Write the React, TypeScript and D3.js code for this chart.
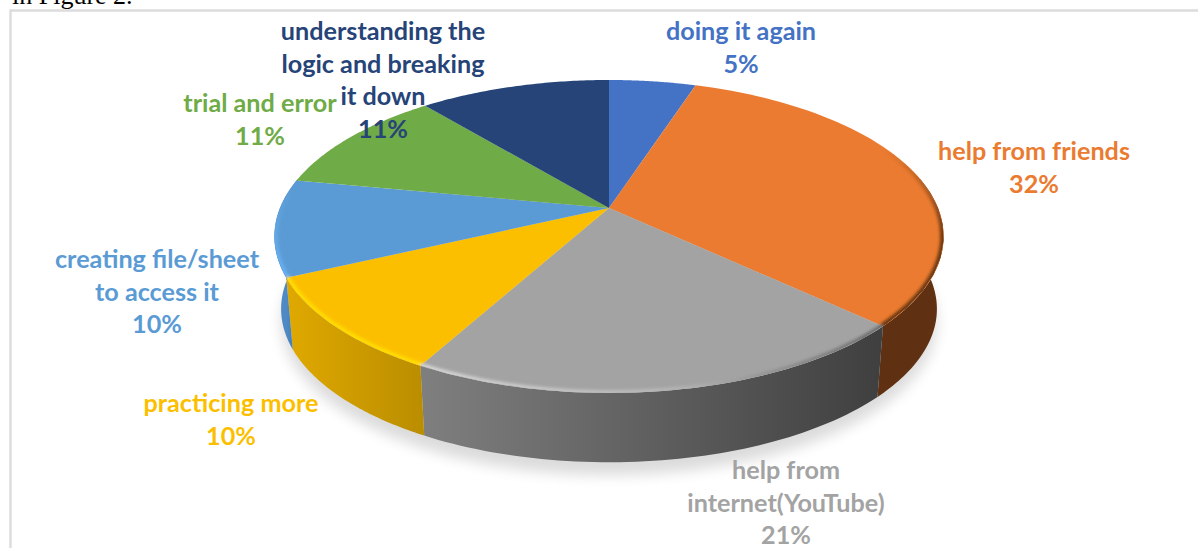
import React from "react";
import * as d3 from "d3";

// Survey shares, clockwise from twelve o'clock
const categories = [
  "doing it again",
  "help from friends",
  "help from internet(YouTube)",
  "practicing more",
  "creating file/sheet to access it",
  "trial and error",
  "understanding the logic and breaking it down",
];
const shares = [5, 32, 21, 10, 10, 11, 11];
const topColors = ["#4472c4", "#ea7b30", "#a3a3a3", "#fcbf00", "#5b9bd5", "#6fab46", "#264478"];
const sideLeft = ["#2f5597", "#5f3012", "#7f7f7f", "#e0a900", "#4f8ac4", "#5b8f3a", "#1c3359"];
const sideRight = ["#2f5597", "#5f3012", "#3f3f3f", "#bb8e00", "#4178b0", "#5b8f3a", "#1c3359"];

const labelLines = [
  ["doing it again", "5%"],
  ["help from friends", "32%"],
  ["help from", "internet(YouTube)", "21%"],
  ["practicing more", "10%"],
  ["creating file/sheet", "to access it", "10%"],
  ["trial and error", "11%"],
  ["understanding the", "logic and breaking", "it down", "11%"],
];
const labelCenters = [741, 1034, 786, 231, 157, 260, 383];
const labelFirstBaselines = [39.8, 159.8, 478.8, 411.8, 267.8, 111.8, 39.8];

const W = 1198;
const H = 548;
const cx = 609;
const cy = 208;
const lineGap = 32.7;

// Perspective tilt of the disc: the near half is drawn larger than the far half
const k = 0.182;
const a = 151.3;
const b = 329;
const depthDrop = 73;
const baseScale = 0.98;

const project = (theta: number, level: "top" | "base" = "top"): [number, number] => {
  const u = -Math.cos(theta);
  const v = Math.sin(theta);
  const d = 1 - k * u;
  const x = (b * v) / d;
  const y = (a * u) / d;
  return level === "top"
    ? [cx + x, cy + y]
    : [cx + x * baseScale, cy + y * baseScale + depthDrop];
};

const pieAngles = d3
  .pie<number>()
  .sort(null)
  .value((d) => d)(shares);

const line = d3.line();
const color = d3.scaleOrdinal<number, string>().domain(d3.range(shares.length)).range(topColors);

const arcPoints = (start: number, end: number, level: "top" | "base"): [number, number][] =>
  d3.range(0, 61).map((i) => project(start + ((end - start) * i) / 60, level));

const wedgePath = (start: number, end: number) =>
  line([[cx, cy], ...arcPoints(start, end, "top")])! + "Z";

// The wall is visible only on the near half of the rim
const wallFrom = Math.PI / 2 - 0.2;
const wallTo = (3 * Math.PI) / 2 + 0.2;

const wallPath = (start: number, end: number) => {
  const s = Math.max(start, wallFrom);
  const e = Math.min(end, wallTo);
  if (e <= s) return null;
  return line([...arcPoints(s, e, "top"), ...arcPoints(s, e, "base").reverse()])! + "Z";
};

const outline = line(arcPoints(0, Math.PI * 2, "top"))! + "Z";
const baseOutline = line(arcPoints(0, Math.PI * 2, "base"))! + "Z";

const rimPath = (i: number, from: number, to: number) => {
  const s = Math.max(pieAngles[i].startAngle, from);
  const e = Math.min(pieAngles[i].endAngle, to);
  return line(arcPoints(s, e, "top"))!;
};

export default function App() {
  return (
    <svg
      width={W}
      height={H}
      viewBox={`0 0 ${W} ${H}`}
      style={{ position: "absolute", left: 0, top: 0, background: "#fff" }}
    >
      <defs>
        <filter id="dropShadow" x="-10%" y="-10%" width="120%" height="130%">
          <feGaussianBlur stdDeviation="7" />
        </filter>
        <filter id="rimBlur" x="-5%" y="-5%" width="110%" height="110%">
          <feGaussianBlur stdDeviation="1.5" />
        </filter>
        <clipPath id="topClip">
          <path d={outline} />
        </clipPath>
        <linearGradient id="rimOrange" gradientUnits="userSpaceOnUse" x1={0} x2={0} y1={150} y2={235}>
          <stop offset="0" stopColor="#5f3012" stopOpacity={0} />
          <stop offset="1" stopColor="#5f3012" stopOpacity={0.9} />
        </linearGradient>
        <linearGradient id="rimGray" gradientUnits="userSpaceOnUse" x1={425} x2={885} y1={0} y2={0}>
          <stop offset="0" stopColor="#d4d4d4" />
          <stop offset="0.55" stopColor="#b4b4b4" />
          <stop offset="1" stopColor="#6a6a6a" />
        </linearGradient>
        <linearGradient id="rimBlue" gradientUnits="userSpaceOnUse" x1={0} x2={0} y1={190} y2={262}>
          <stop offset="0" stopColor="#66aef0" stopOpacity={0} />
          <stop offset="1" stopColor="#66aef0" />
        </linearGradient>
        {pieAngles.map((p, i) => {
          const s = Math.max(p.startAngle, wallFrom);
          const e = Math.min(p.endAngle, wallTo);
          if (e <= s) return null;
          const x1 = project(s)[0];
          const x2 = project(e)[0];
          return (
            <linearGradient
              key={i}
              id={`wall${i}`}
              gradientUnits="userSpaceOnUse"
              x1={Math.max(x1, x2)}
              x2={Math.min(x1, x2)}
              y1={0}
              y2={0}
            >
              <stop offset="0" stopColor={sideRight[i]} />
              <stop offset="1" stopColor={sideLeft[i]} />
            </linearGradient>
          );
        })}
      </defs>

      {/* Line of body text running above the chart frame */}
      <text x={12} y={4} fontFamily="'Liberation Serif', serif" fontSize={26} fill="#000">
        in Figure 2.
      </text>

      {/* Chart frame */}
      <path d={`M10.5 ${H}V10.5H${W}`} fill="none" stroke="#dcdcdc" strokeWidth={2.4} />

      {/* Soft shadow cast beneath the disc */}
      <path
        d={baseOutline}
        transform="translate(0 13)"
        fill="#000"
        opacity={0.14}
        filter="url(#dropShadow)"
      />

      {/* Walls */}
      {pieAngles.map((p, i) => {
        const d = wallPath(p.startAngle, p.endAngle);
        return d ? <path key={i} d={d} fill={`url(#wall${i})`} /> : null;
      })}

      {/* Top face */}
      {pieAngles.map((p, i) => (
        <path key={i} d={wedgePath(p.startAngle, p.endAngle)} fill={color(i)} />
      ))}

      {/* Bevel along the near rim of the top face */}
      <g clipPath="url(#topClip)" fill="none" filter="url(#rimBlur)">
        <path d={rimPath(1, 0.6, Math.PI)} stroke="url(#rimOrange)" strokeWidth={7} />
        <path d={rimPath(2, 0, Math.PI * 2)} stroke="url(#rimGray)" strokeWidth={6} />
        <path d={rimPath(3, 0, Math.PI * 2)} stroke="#ffdc00" strokeWidth={7} />
        <path d={rimPath(4, 0, Math.PI * 2)} stroke="url(#rimBlue)" strokeWidth={7} />
      </g>

      {/* Data labels */}
      {labelLines.map((lines, i) => (
        <text
          key={i}
          textAnchor="middle"
          fontFamily="Lato, 'Noto Sans', sans-serif"
          fontWeight={700}
          fontSize={25.2}
          fill={color(i)}
        >
          {lines.map((t, j) => (
            <tspan key={j} x={labelCenters[i]} y={labelFirstBaselines[i] + j * lineGap}>
              {t}
            </tspan>
          ))}
        </text>
      ))}
    </svg>
  );
}
